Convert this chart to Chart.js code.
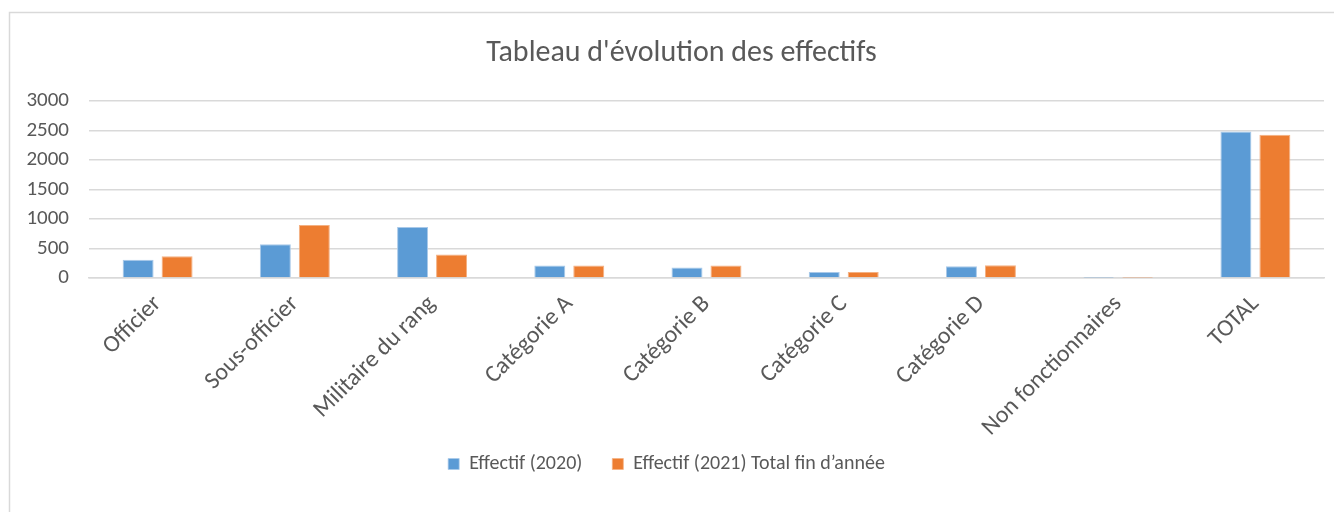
<!DOCTYPE html>
<html><head><meta charset="utf-8">
<script src="https://cdn.jsdelivr.net/npm/chart.js@4"></script>
<style>html,body{margin:0;padding:0;background:#fff}#wrap{width:1334px;height:512px}</style>
</head><body><div id="wrap"><canvas id="c" width="1334" height="512"></canvas></div>
<script>
const categories = ["Officier","Sous-officier","Militaire du rang","Catégorie A","Catégorie B","Catégorie C","Catégorie D","Non fonctionnaires","TOTAL"];
const effectif2020 = [310, 570, 865, 210, 177, 102, 199, 4, 2483];
const effectif2021 = [370, 900, 400, 210, 211, 100, 216, 3, 2427];
const seriesNames = ["Effectif (2020)", "Effectif (2021) Total fin d\u2019année"];
const yTicks = [0, 500, 1000, 1500, 2000, 2500, 3000];

const FONT = "'Carlito','Liberation Sans','Open Sans',sans-serif";
const TXT = '#595959';

const frame = {
  id: 'frame',
  beforeDraw(chart){
    const ctx = chart.ctx;
    ctx.save();
    ctx.fillStyle = '#fff';
    ctx.fillRect(0,0,chart.width,chart.height);
    ctx.strokeStyle = '#d9d9d9';
    ctx.lineWidth = 1.5;
    ctx.strokeRect(9.5, 12.5, 1340, 520);
    ctx.restore();
  },
  afterLayout(chart){
    if (chart.titleBlock) { chart.titleBlock.left = 39; chart.titleBlock.right = 1324; }
  }
};

new Chart(document.getElementById('c'), {
  type: 'bar',
  data: {
    labels: categories,
    datasets: [
      {label: seriesNames[0], data: effectif2020, backgroundColor: '#5b9bd5', borderColor: '#a9c9e9', borderWidth: {top:1,left:1,right:1,bottom:0}},
      {label: seriesNames[1], data: effectif2021, backgroundColor: '#ed7d31', borderColor: '#f4b183', borderWidth: {top:1,left:1,right:1,bottom:0}}
    ]
  },
  options: {
    responsive: false,
    animation: false,
    devicePixelRatio: 1,
    layout: {padding: {left: 9, right: 10, top: 12, bottom: 28}},
    datasets: {bar: {categoryPercentage: 0.568, barPercentage: 0.795}},
    plugins: {
      title: {display: true, text: 'Tableau d\'évolution des effectifs', color: TXT,
        font: {family: FONT, size: 30, weight: 'normal'}, padding: {top: 23, bottom: 30}},
      legend: {position: 'bottom', labels: {color: TXT, font: {family: FONT, size: 20}, boxWidth: 11, boxHeight: 11, padding: 30}},
      tooltip: {enabled: false}
    },
    scales: {
      x: {
        grid: {display: false, drawTicks: false},
        border: {display: true, color: '#d9d9d9', width: 1.5},
        ticks: {color: TXT, font: {family: FONT, size: 24}, maxRotation: 45, minRotation: 45, padding: 12, autoSkip: false},
        afterFit(s){ s.height = 146; s._computeLabelArea = () => undefined; }
      },
      y: {
        min: 0, max: 3000,
        afterBuildTicks(s){ s.ticks = yTicks.map(v => ({value: v})); },
        grid: {color: '#d9d9d9', lineWidth: 1.5, drawTicks: false},
        border: {display: false},
        ticks: {color: TXT, font: {family: FONT, size: 21}, padding: 20, callback: v => String(v)},
        afterFit(s){ s.width = 80; }
      }
    }
  },
  plugins: [frame]
});
</script>
</body></html>
